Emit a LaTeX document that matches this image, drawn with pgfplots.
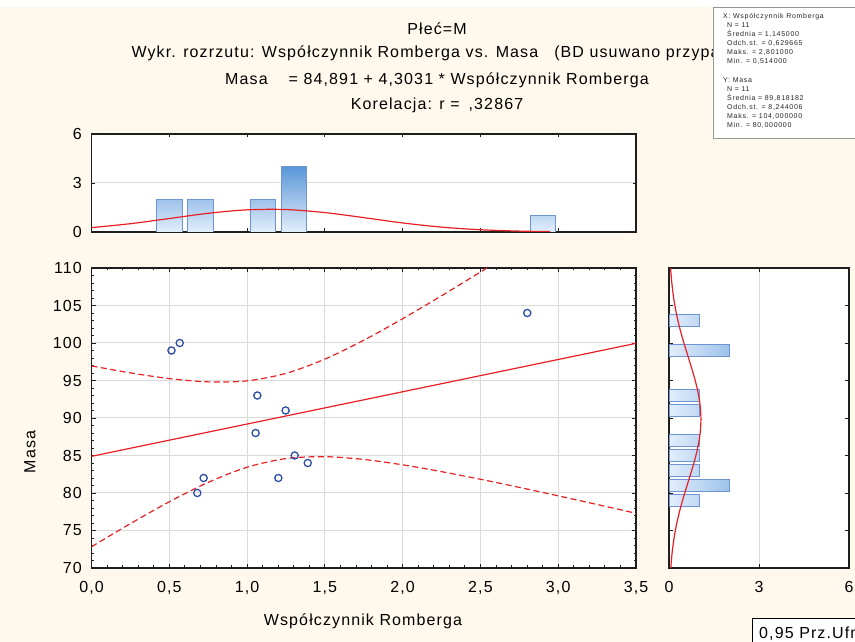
\documentclass[border=0pt]{standalone}
\usepackage{fontspec}
\setmainfont{Liberation Sans}[LetterSpace=7]
\newfontfamily\notefamily{Liberation Sans}[LetterSpace=10]
\usepackage{pgfplots}
\pgfplotsset{compat=1.18}

\definecolor{paper}{RGB}{255,249,237}
\definecolor{gridgray}{RGB}{218,218,218}
\definecolor{frame}{RGB}{30,30,30}
\definecolor{fitred}{RGB}{232,32,38}
\definecolor{ptblue}{RGB}{45,78,165}
\definecolor{barline}{RGB}{110,148,210}
\definecolor{bar0}{RGB}{226,238,251}
\definecolor{bar1}{RGB}{192,216,243}
\definecolor{bar2}{RGB}{158,194,234}
\definecolor{bar4}{RGB}{90,150,215}
\definecolor{boxline}{RGB}{150,150,150}

\newcommand\labelfont{\fontsize{16bp}{19bp}\selectfont}
\newcommand\notefont{\notefamily\fontsize{7bp}{8bp}\selectfont}

\pgfplotsset{
  statpanel/.style={
    scale only axis, anchor=south west,
    axis background/.style={fill=white},
    axis line style={draw=frame, line width=1.2bp},
    every tick/.style={draw=frame, line width=0.8bp},
    tick align=inside,
    major tick length=4bp, minor tick length=2.5bp,
    tick label style={font=\labelfont, text=black, inner sep=0pt},
    xticklabel shift=13.5bp, yticklabel shift=9.5bp,
    major grid style={draw=gridgray, line width=1bp},
    /pgf/number format/assume math mode=true,
  },
}

\begin{document}
\begin{tikzpicture}
\useasboundingbox (0,0) rectangle (855bp,642bp);
\fill[paper] (0,0) rectangle (855bp,642bp);
\fill[white] (0,635bp) rectangle (855bp,642bp);

% titles
\node[anchor=base, font=\labelfont] at (437bp,607bp) {Płeć=M};
\node[anchor=base west, font=\labelfont] at (128bp,584.5bp)
  {Wykr. rozrzutu: Współczynnik Romberga vs. Masa\hspace{16bp}(BD usuwano przypadkami)};
\node[anchor=base, font=\labelfont] at (437bp,557.5bp)
  {Masa\hspace{21bp}= 84,891 + 4,3031 * Współczynnik Romberga};
\node[anchor=base, font=\labelfont] at (437bp,532bp) {Korelacja: r =\hspace{9bp},32867};

% axis titles
\node[font=\labelfont] at (363bp,21bp) {Współczynnik Romberga};
\node[font=\labelfont, rotate=90] at (30bp,190bp) {Masa};

% scatter with fit and 95% band
\begin{axis}[statpanel, at={(91.5bp,74bp)}, width=544.5bp, height=300bp,
  xmin=0, xmax=3.5, ymin=70, ymax=110,
  xtick={0,0.5,...,3.5}, ytick={70,75,...,110},
  minor x tick num=4, minor y tick num=4, grid=major,
  xticklabel style={/pgf/number format/.cd, fixed, fixed zerofill, precision=1, use comma},
]
\addplot[fitred, line width=1.2bp] coordinates {(0,84.891) (3.5,99.952)};
\addplot[fitred, line width=1.2bp, dash pattern=on 6bp off 3.5bp, smooth] coordinates {
 (0,96.944) (0.25,96.015) (0.5,95.258) (0.75,94.818) (1.0,94.952) (1.25,95.952)
 (1.5,97.849) (1.75,100.367) (2.0,103.237) (2.25,106.297) (2.5,109.466)
 (2.75,112.700) (3.0,115.978) (3.25,119.284) (3.5,122.610)};
\addplot[fitred, line width=1.2bp, dash pattern=on 6bp off 3.5bp, smooth] coordinates {
 (0,72.838) (0.25,75.919) (0.5,78.828) (0.75,81.418) (1.0,83.436) (1.25,84.588)
 (1.5,84.843) (1.75,84.475) (2.0,83.757) (2.25,82.849) (2.5,81.832)
 (2.75,80.748) (3.0,79.622) (3.25,78.468) (3.5,77.294)};
\addplot[only marks, mark=o, mark size=3.6bp, draw=ptblue, line width=1.3bp] coordinates {
 (0.514,99) (0.567,100) (0.680,80) (0.721,82) (1.055,88) (1.066,93)
 (1.201,82) (1.248,91) (1.306,85) (1.390,84) (2.801,104)};
\end{axis}

% histogram of the x variable
\begin{axis}[statpanel, at={(91.5bp,410bp)}, width=544.5bp, height=98bp,
  xmin=0, xmax=3.5, ymin=0, ymax=6,
  xtick={0.5,1,...,3}, xticklabels={}, ytick={0,3,6}, ymajorgrids,
  major tick length=3.5bp,
]
\addplot[ybar, bar width=0.163, bar shift=0pt, draw=barline, line width=0.8bp,
  bottom color=bar0, top color=bar2] coordinates {(0.5,2) (0.7,2) (1.1,2)};
\addplot[ybar, bar width=0.163, bar shift=0pt, draw=barline, line width=0.8bp,
  bottom color=bar0, top color=bar4] coordinates {(1.3,4)};
\addplot[ybar, bar width=0.163, bar shift=0pt, draw=barline, line width=0.8bp,
  bottom color=bar0, top color=bar1] coordinates {(2.9,1)};
\addplot[fitred, line width=1.2bp, smooth] coordinates {
 (0,0.267) (0.25,0.508) (0.5,0.825) (0.75,1.145) (1.0,1.357) (1.25,1.375)
 (1.5,1.189) (1.75,0.879) (2.0,0.554) (2.25,0.299) (2.5,0.138) (2.75,0.054) (2.95,0.023)};
\end{axis}

% histogram of the y variable
\begin{axis}[statpanel, at={(669bp,74bp)}, width=180bp, height=300bp,
  xmin=0, xmax=6, ymin=70, ymax=110,
  xtick={0,3,6}, ytick={75,80,...,105}, yticklabels={}, xmajorgrids,
]
\addplot[xbar, bar width=1.6, bar shift=0pt, draw=barline, line width=0.8bp,
  left color=bar0, right color=bar1] coordinates {
 (1,103) (1,93) (1,91) (1,87) (1,85) (1,83) (1,79)};
\addplot[xbar, bar width=1.6, bar shift=0pt, draw=barline, line width=0.8bp,
  left color=bar0, right color=bar2] coordinates {(2,99) (2,81)};
\addplot[fitred, line width=1.2bp, smooth] coordinates {
 (0.059,70) (0.103,72) (0.169,74) (0.261,76) (0.381,78) (0.524,80) (0.679,82)
 (0.830,84) (0.956,86) (1.039,88) (1.064,90) (1.028,92) (0.936,94) (0.804,96)
 (0.651,98) (0.497,100) (0.357,102) (0.242,104) (0.155,106) (0.094,108) (0.053,110)};
\end{axis}

% descriptive statistics box
\draw[boxline, fill=white, line width=0.8bp] (713bp,504bp) rectangle (875bp,635bp);
\begin{scope}[every node/.style={font=\notefont, anchor=base west, inner sep=0pt, text=black!85}]
\node at (723bp,623.3bp) {X: Współczynnik Romberga};
\node at (727bp,614.3bp) {N = 11};
\node at (727bp,605.3bp) {Średnia = 1,145000};
\node at (727bp,596.3bp) {Odch.st. = 0,629665};
\node at (727bp,587.3bp) {Maks. = 2,801000};
\node at (727bp,578.3bp) {Min. = 0,514000};
\node at (723bp,559.3bp) {Y: Masa};
\node at (727bp,550.3bp) {N = 11};
\node at (727bp,541.3bp) {Średnia = 89,818182};
\node at (727bp,532.3bp) {Odch.st. = 8,244006};
\node at (727bp,523.3bp) {Maks. = 104,000000};
\node at (727bp,514.3bp) {Min. = 80,000000};
\end{scope}

% confidence-band key
\draw[black, fill=white, line width=0.8bp] (752.5bp,-5bp) rectangle (875bp,23.7bp);
\node[anchor=base west, font=\labelfont, inner sep=0pt] at (759bp,4bp) {0,95 Prz.Ufn.};
\end{tikzpicture}
\end{document}
